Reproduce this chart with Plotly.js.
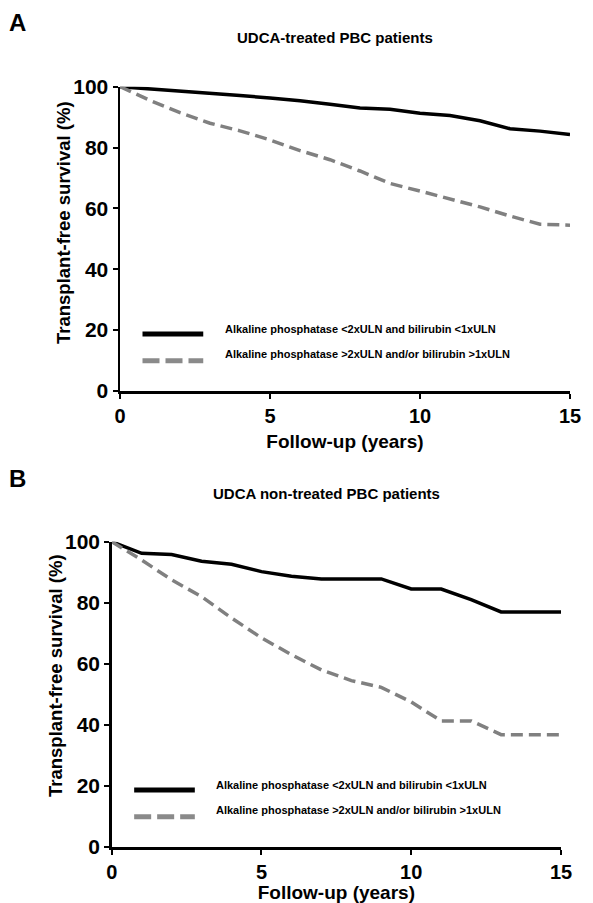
<!DOCTYPE html>
<html>
<head>
<meta charset="utf-8">
<script src="https://cdn.plot.ly/plotly-3.0.1.min.js"></script>
<style>
html,body{margin:0;padding:0;background:#ffffff;}
#chart{width:593px;height:903px;}
</style>
</head>
<body>
<div id="chart"></div>
<script>
// ---- data ----
const years = [0,1,2,3,4,5,6,7,8,9,10,11,12,13,14,15];
const treatedGood   = [100,99.3,98.7,97.9,97.1,96.3,95.4,94.2,93.0,92.6,91.3,90.5,88.8,86.2,85.4,84.3];
const treatedPoor   = [100,95.5,91.5,88.0,85.5,82.5,79.0,76.0,72.3,68.2,65.7,63.2,60.5,57.5,54.8,54.5];
const untreatedGood = [100,96.2,95.8,93.6,92.6,90.2,88.7,87.8,87.8,87.8,84.5,84.5,81.0,77.0,77.0,77.0];
const untreatedPoor = [100,94.0,87.5,82.0,75.0,68.5,63.0,58.0,54.5,52.3,47.5,41.3,41.3,36.8,36.8,36.8];
const seriesNames = ['Alkaline phosphatase <2xULN and bilirubin <1xULN',
                     'Alkaline phosphatase >2xULN and/or bilirubin >1xULN'];
const panelTitles = ['UDCA-treated PBC patients', 'UDCA non-treated PBC patients'];
const panelLetters = ['A', 'B'];
const xTickVals = [0, 5, 10, 15];
const yTickVals = [0, 20, 40, 60, 80, 100];
const xTitle = 'Follow-up (years)';
const yTitle = 'Transplant-free survival (%)';

// ---- styles ----
const FONT = 'Arial, "Liberation Sans", Helvetica, sans-serif';
const W = 593, H = 903;
const BLACK = '#000000';
const GREY = '#808080';
const lineGood = {color: BLACK, width: 3.5, dash: 'solid'};
const linePoor = {color: GREY, width: 3.5, dash: '12px,6px'};

// panel geometry in pixels
const panels = [
  {x0: 120, x1: 570, yTop: 86.7, yBot: 391, xa: 'x', ya: 'y'},
  {x0: 111.7, x1: 561, yTop: 541.7, yBot: 847, xa: 'x2', ya: 'y2'}
];

const traces = [
  {x: years, y: treatedGood, xaxis: 'x', yaxis: 'y', name: seriesNames[0], mode: 'lines', line: lineGood, showlegend: false},
  {x: years, y: treatedPoor, xaxis: 'x', yaxis: 'y', name: seriesNames[1], mode: 'lines', line: linePoor, showlegend: false},
  {x: years, y: untreatedGood, xaxis: 'x2', yaxis: 'y2', name: seriesNames[0], mode: 'lines', line: lineGood, showlegend: false},
  {x: years, y: untreatedPoor, xaxis: 'x2', yaxis: 'y2', name: seriesNames[1], mode: 'lines', line: linePoor, showlegend: false}
];

function xAxis(p) {
  return {
    domain: [p.x0 / W, p.x1 / W],
    range: [0, 15], fixedrange: true,
    tickvals: xTickVals, ticktext: xTickVals.map(String),
    showline: true, linecolor: BLACK, linewidth: 2.5,
    ticks: 'outside', ticklen: 5, tickwidth: 2, tickcolor: BLACK,
    showgrid: false, zeroline: false,
    tickfont: {family: FONT, size: 20, color: BLACK, weight: 'bold'},
    title: {text: xTitle, font: {family: FONT, size: 19, color: BLACK, weight: 'bold'}, standoff: 9},
    anchor: p.ya
  };
}
function yAxis(p) {
  return {
    domain: [1 - p.yBot / H, 1 - p.yTop / H],
    range: [0, 100], fixedrange: true,
    tickvals: yTickVals, ticktext: yTickVals.map(String),
    showline: true, linecolor: BLACK, linewidth: 2.5,
    ticks: 'outside', ticklen: 5, tickwidth: 2, tickcolor: BLACK,
    showgrid: false, zeroline: false,
    ticklabelstandoff: 0,
    tickfont: {family: FONT, size: 21, color: BLACK, weight: 'bold'},
    anchor: p.xa
  };
}

const annotations = [];
const shapes = [];
panels.forEach((p, i) => {
  const cx = (p.x0 + p.x1) / 2;
  // panel letter
  annotations.push({text: panelLetters[i], xref: 'paper', yref: 'paper',
    x: 7 / W, y: 1 - (i === 0 ? 22 : 478) / H, xanchor: 'left', yanchor: 'middle',
    showarrow: false, font: {family: FONT, size: 24, color: BLACK, weight: 'bold'}});
  // panel title
  annotations.push({text: panelTitles[i], xref: 'paper', yref: 'paper',
    x: (cx - 10) / W, y: 1 - (i === 0 ? 38 : 493) / H, xanchor: 'center', yanchor: 'middle',
    showarrow: false, font: {family: FONT, size: 15, color: BLACK, weight: 'bold'}});
  // y axis title
  annotations.push({text: yTitle, xref: 'paper', yref: 'paper', textangle: -90,
    x: (i === 0 ? 63 : 55) / W, y: 1 - (i === 0 ? 223 : 676) / H, xanchor: 'center', yanchor: 'middle',
    showarrow: false, font: {family: FONT, size: 18.5, color: BLACK, weight: 'bold'}});
  // legend
  const xd = p.xa + ' domain', yd = p.ya + ' domain';
  shapes.push({type: 'line', xref: xd, yref: yd, x0: 0.05, x1: 0.185, y0: 0.187, y1: 0.187,
    line: {color: BLACK, width: 5}});
  shapes.push({type: 'line', xref: xd, yref: yd, x0: 0.05, x1: 0.185, y0: 0.099, y1: 0.099,
    line: {color: '#8a8a8a', width: 5, dash: '17px,6px'}});
  annotations.push({text: seriesNames[0], xref: xd, yref: yd, x: 0.228, y: 0.203,
    xanchor: 'left', yanchor: 'middle', showarrow: false,
    font: {family: FONT, size: 11, color: BLACK, weight: 'bold'}});
  annotations.push({text: seriesNames[1], xref: xd, yref: yd, x: 0.228, y: 0.12,
    xanchor: 'left', yanchor: 'middle', showarrow: false,
    font: {family: FONT, size: 11, color: BLACK, weight: 'bold'}});
});

const layout = {
  width: W, height: H,
  margin: {l: 0, r: 0, t: 0, b: 0, pad: 0},
  paper_bgcolor: '#ffffff', plot_bgcolor: '#ffffff',
  showlegend: false,
  font: {family: FONT, color: BLACK},
  xaxis: xAxis(panels[0]), yaxis: yAxis(panels[0]),
  xaxis2: xAxis(panels[1]), yaxis2: yAxis(panels[1]),
  annotations: annotations,
  shapes: shapes
};

Plotly.newPlot('chart', traces, layout, {displayModeBar: false, staticPlot: true});
</script>
</body>
</html>
